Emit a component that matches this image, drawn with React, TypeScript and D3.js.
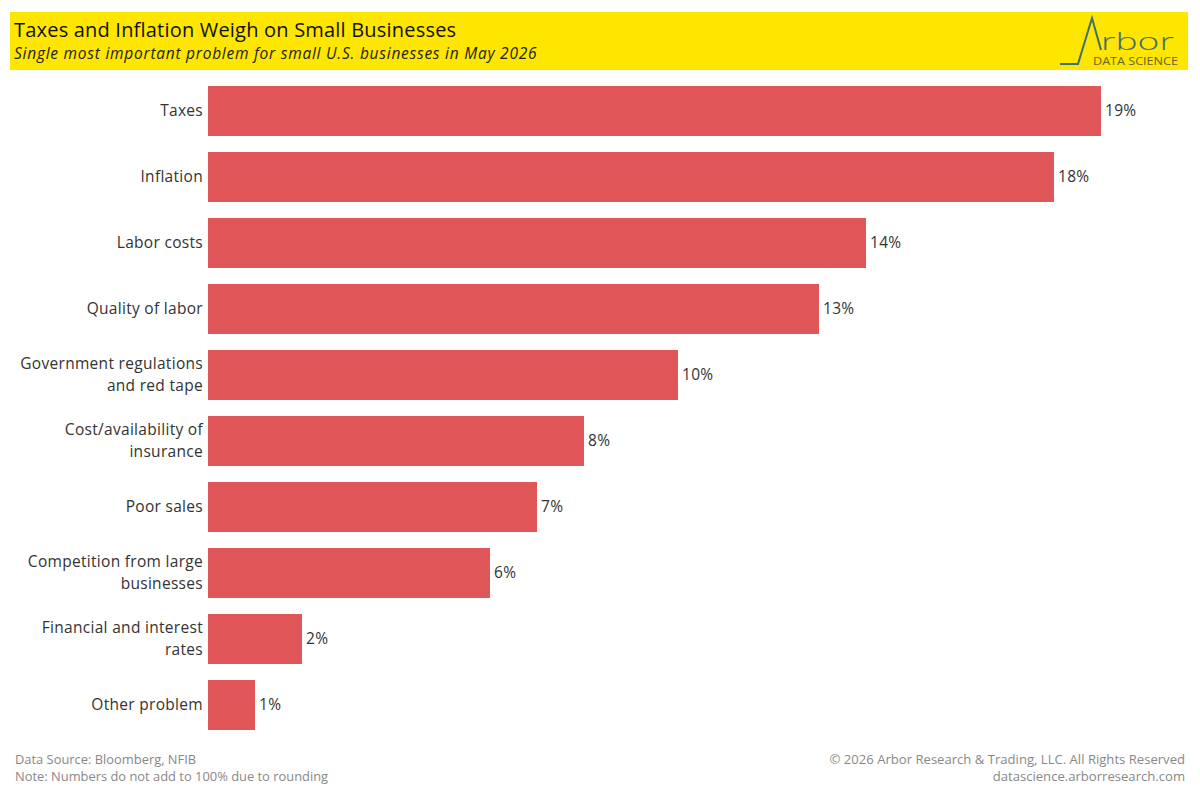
import * as d3 from 'd3';

const categories = [
  ['Taxes'],
  ['Inflation'],
  ['Labor costs'],
  ['Quality of labor'],
  ['Government regulations', 'and red tape'],
  ['Cost/availability of', 'insurance'],
  ['Poor sales'],
  ['Competition from large', 'businesses'],
  ['Financial and interest', 'rates'],
  ['Other problem'],
];
const shares = [19, 18, 14, 13, 10, 8, 7, 6, 2, 1];

const W = 1200;
const H = 800;
const FONT = '"Open Sans", "Noto Sans", sans-serif';
const BAR = '#e15759';
const TEXT = '#333333';

export default function App() {
  const keys = categories.map((c) => c.join(' '));
  const y = d3.scaleBand<string>().domain(keys).range([86 - 8, 730 + 8]).paddingInner(16 / 66).paddingOuter(8 / 66);
  const x = d3.scaleLinear().domain([0, 19]).range([208, 1101]);

  return (
    <svg width={W} height={H} style={{ position: 'absolute', left: 0, top: 0, fontFamily: FONT }}>
      <rect width={W} height={H} fill="#fff" />
      {/* header banner */}
      <rect x={10} y={12} width={1178} height={58} fill="#ffe600" />
      <text x={14} y={37} fontSize={20} letterSpacing={0.2} fill="#111">
        Taxes and Inflation Weigh on Small Businesses
      </text>
      <text x={14} y={59} fontSize={15.5} letterSpacing={0.75} fontStyle="italic" fill="#222">
        Single most important problem for small U.S. businesses in May 2026
      </text>
      {/* logo */}
      <path d="M1060,64 L1078,64 L1092,18 L1101,50" fill="none" stroke="#3f6f6e" strokeWidth={2} />
      <text transform="translate(1101,50) scale(1.55,1)" fontSize={24} fill="#3f6f6e" fontWeight={300}>
        rbor
      </text>
      <text x={1093} y={65} fontSize={11} fill="#6a6328" textLength={85} lengthAdjust="spacingAndGlyphs">
        DATA SCIENCE
      </text>

      {categories.map((lines, i) => {
        const key = keys[i];
        const y0 = y(key) ?? 0;
        const cy = y0 + y.bandwidth() / 2;
        return (
          <g key={key} fontSize={15.5} letterSpacing={0.3} fill={TEXT}>
            <rect x={x(0)} y={y0} width={x(shares[i]) - x(0)} height={y.bandwidth()} fill={BAR} />
            <text x={x(shares[i]) + 4} y={cy} dy="0.35em">
              {shares[i]}%
            </text>
            {lines.map((l, j) => (
              <text
                key={l}
                x={203}
                y={cy + (j - (lines.length - 1) / 2) * 22}
                dy="0.35em"
                textAnchor="end"
              >
                {l}
              </text>
            ))}
          </g>
        );
      })}

      {/* footer */}
      <g fontSize={12.9} fill="#888">
        <text x={15} y={764}>Data Source: Bloomberg, NFIB</text>
        <text x={15} y={781}>Note: Numbers do not add to 100% due to rounding</text>
        <text x={1185} y={764} textAnchor="end" fontSize={13.1}>© 2026 Arbor Research &amp; Trading, LLC. All Rights Reserved</text>
        <text x={1185} y={781} textAnchor="end" fontSize={13.1}>datascience.arborresearch.com</text>
      </g>
    </svg>
  );
}
